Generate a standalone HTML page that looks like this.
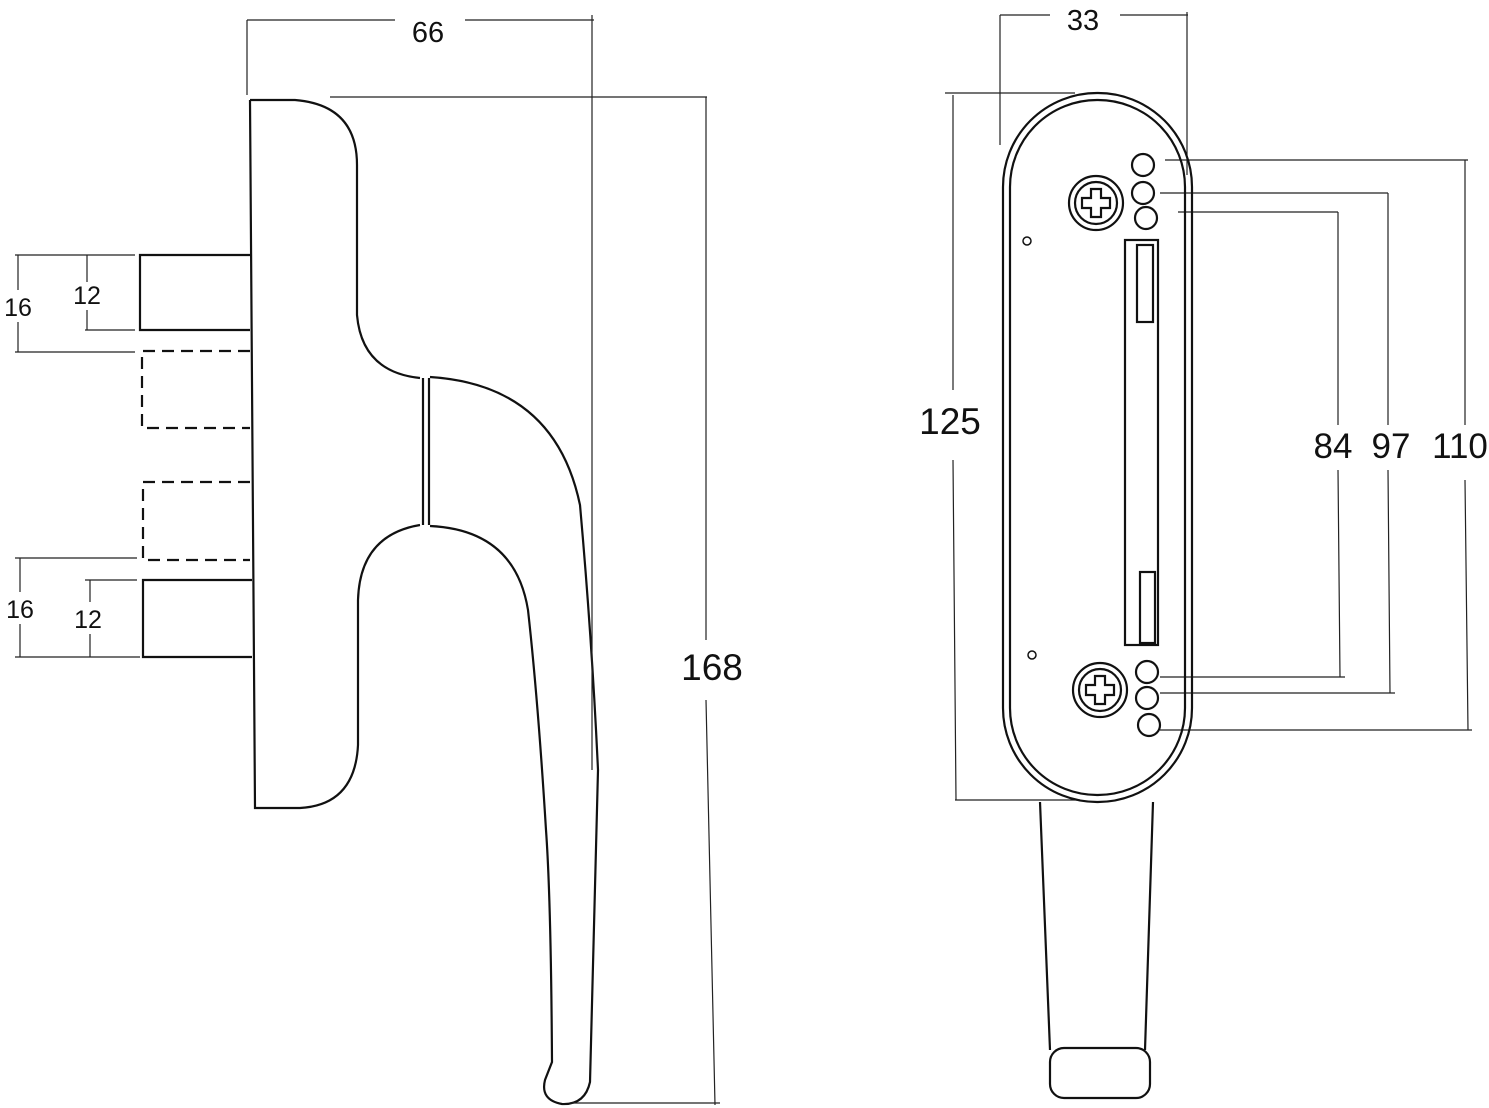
<!DOCTYPE html>
<html><head><meta charset="utf-8"><style>
html,body{margin:0;padding:0;background:#fff;width:1489px;height:1108px;overflow:hidden}
svg{display:block}
text{font-family:"Liberation Sans",sans-serif;fill:#111}
</style></head><body>
<svg width="1489" height="1108" viewBox="0 0 1489 1108" xmlns="http://www.w3.org/2000/svg">
<g fill="none" stroke="#111" stroke-width="2.2">
<path d="M250,100 L295,100 Q357,105 357,165 L357,315 Q362,372 420,378"/>
<path d="M420,525 Q360,535 358,600 L358,745 Q355,805 300,808 L255,808 L250,100"/>
<path d="M423,378 L423,525 M429,378 L429,525"/>
<path d="M430,377 Q555,385 580,505 Q592,640 598,770 L590,1082 Q585,1105 562,1104 Q540,1100 545,1080 L552,1062 Q551,900 546,830 Q538,700 528,610 Q515,530 430,526"/>
<path d="M250,255 L140,255 L140,330 L250,330"/>
<path d="M252,580 L143,580 L143,657 L252,657"/>
<path d="M250,351 L142,351 L142,428 L250,428 M250,482 L143,482 L143,560 L250,560" stroke-dasharray="12,7"/>
</g>
<g fill="none" stroke="#222" stroke-width="1.2">
<path d="M15,255 L135,255 M15,352 L135,352 M18,255 L18,290 M18,322 L18,352 M85,330 L135,330 M87,255 L87,282 M87,310 L87,330"/>
<path d="M15,558 L137,558 M15,657 L140,657 M20,558 L20,592 M20,624 L20,657 M85,580 L137,580 M90,580 L90,602 M90,634 L90,657"/>
<path d="M247,20 L247,95 M247,20 L395,20 M465,20 L594,20 M592,15 L592,770 M330,97 L707,97 M706,97 L706,640 M706,700 L715,1105 M570,1103 L720,1103"/>
<path d="M1000,15 L1000,145 M1000,15 L1050,15 M1120,15 L1188,15 M1187,12 L1187,175"/>
<path d="M945,93 L1075,93 M955,800 L1080,800 M953,95 L953,390 M953,460 L956,800"/>
<path d="M1178,212 L1338,212 M1338,212 L1338,425 M1338,470 L1340,677 M1160,677 L1345,677"/>
<path d="M1160,193 L1388,193 M1388,193 L1388,425 M1388,470 L1390,693 M1160,693 L1395,693"/>
<path d="M1165,160 L1468,160 M1465,160 L1465,425 M1465,480 L1468,730 M1160,730 L1472,730"/>
</g>
<g fill="none" stroke="#111" stroke-width="2.2">
<rect x="1003" y="93" width="189" height="709" rx="94"/>
<rect x="1010" y="100" width="175" height="695" rx="87"/>
<path d="M1040,802 L1050,1050 M1153,802 L1145,1050"/>
<rect x="1050" y="1048" width="100" height="50" rx="14"/>
<circle cx="1096" cy="203" r="27"/><circle cx="1096" cy="203" r="21"/>
<circle cx="1100" cy="690" r="27"/><circle cx="1100" cy="690" r="21"/>
<path d="M1091,189 h10 v9 h9 v10 h-9 v9 h-10 v-9 h-9 v-10 h9z"/>
<path d="M1095,676 h10 v9 h9 v10 h-9 v9 h-10 v-9 h-9 v-10 h9z"/>
<circle cx="1143" cy="165" r="11"/><circle cx="1143" cy="193" r="11"/><circle cx="1146" cy="218" r="11"/>
<circle cx="1147" cy="672" r="11"/><circle cx="1147" cy="698" r="11"/><circle cx="1149" cy="725" r="11"/>
<rect x="1125" y="240" width="33" height="405"/>
<rect x="1137" y="245" width="16" height="77"/>
<rect x="1140" y="572" width="15" height="71"/>
<circle cx="1027" cy="241" r="4" stroke-width="1.5"/>
<circle cx="1032" cy="655" r="4" stroke-width="1.5"/>
</g>
<text x="428" y="42" font-size="29" text-anchor="middle">66</text>
<text x="712" y="680" font-size="37" text-anchor="middle">168</text>
<text x="18" y="316" font-size="25" text-anchor="middle">16</text>
<text x="87" y="304" font-size="25" text-anchor="middle">12</text>
<text x="20" y="618" font-size="25" text-anchor="middle">16</text>
<text x="88" y="628" font-size="25" text-anchor="middle">12</text>
<text x="1083" y="30" font-size="29" text-anchor="middle">33</text>
<text x="950" y="434" font-size="37" text-anchor="middle">125</text>
<text x="1333" y="458" font-size="35" text-anchor="middle">84</text>
<text x="1391" y="458" font-size="35" text-anchor="middle">97</text>
<text x="1460" y="458" font-size="35" text-anchor="middle">110</text>
</svg>
</body></html>
